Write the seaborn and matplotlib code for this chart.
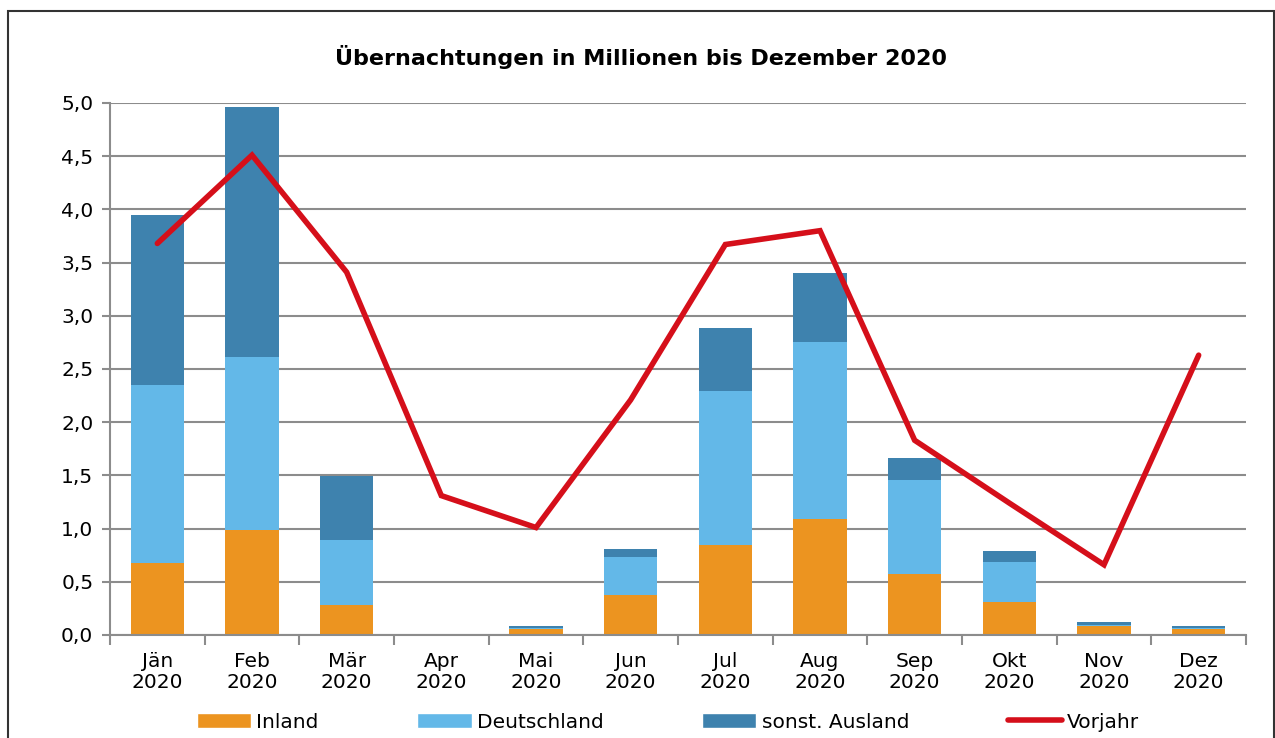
import matplotlib
matplotlib.use('Agg')
import matplotlib.pyplot as plt
import numpy as np
import pandas as pd
import seaborn as sns
from matplotlib.patches import Patch, Rectangle
from matplotlib.lines import Line2D
from matplotlib.ticker import FuncFormatter, FixedLocator

# values (million overnight stays)
months = ['Jän', 'Feb', 'Mär', 'Apr', 'Mai', 'Jun', 'Jul', 'Aug', 'Sep', 'Okt', 'Nov', 'Dez']
year = '2020'
inland = [0.68, 0.99, 0.28, 0.003, 0.055, 0.38, 0.85, 1.09, 0.57, 0.31, 0.085, 0.055]
deutschland = [1.67, 1.62, 0.61, 0.004, 0.015, 0.35, 1.44, 1.66, 0.89, 0.38, 0.01, 0.01]
ausland = [1.60, 2.35, 0.60, 0.005, 0.015, 0.08, 0.60, 0.65, 0.20, 0.10, 0.03, 0.02]
vorjahr = [3.68, 4.51, 3.41, 1.31, 1.01, 2.21, 3.67, 3.80, 1.83, 1.24, 0.66, 2.63]

c_inland = '#EC9420'
c_de = '#63B8E8'
c_aus = '#3E82AE'
c_vj = '#D50F1A'
grid_c = '#8C8C8C'

df = pd.DataFrame({
    'Monat': [f'{m}\n{year}' for m in months],
    'Inland': inland,
    'Deutschland': deutschland,
    'Ausland': ausland,
    'Vorjahr': vorjahr,
})
df['bis_de'] = df['Inland'] + df['Deutschland']
df['gesamt'] = df['bis_de'] + df['Ausland']

sns.set_style('white')
plt.rcParams['font.family'] = ['DejaVu Sans']
plt.rcParams['text.color'] = 'black'
plt.rcParams['xtick.labelcolor'] = 'black'
plt.rcParams['ytick.labelcolor'] = 'black'

fig = plt.figure(figsize=(12.75, 7.38), dpi=100)
ax = fig.add_axes([110 / 1275, 1 - 635 / 738, (1246 - 110) / 1275, (635 - 103) / 738])

# layered bars: total first, then partial sums on top
bw = 0.56
sns.barplot(data=df, x='Monat', y='gesamt', color=c_aus, saturation=1, width=bw, ax=ax,
            linewidth=0, zorder=2)
sns.barplot(data=df, x='Monat', y='bis_de', color=c_de, saturation=1, width=bw, ax=ax,
            linewidth=0, zorder=2)
sns.barplot(data=df, x='Monat', y='Inland', color=c_inland, saturation=1, width=bw, ax=ax,
            linewidth=0, zorder=2)

sns.lineplot(x=np.arange(len(months)), y=df['Vorjahr'], color=c_vj, linewidth=4, ax=ax,
             zorder=4, solid_joinstyle='miter')

ax.set_xlim(-0.5, len(months) - 0.5)
ax.set_ylim(0, 5)
ax.set_xlabel('')
ax.set_ylabel('')

ax.yaxis.set_major_locator(FixedLocator(np.arange(0, 5.01, 0.5)))
ax.yaxis.set_major_formatter(FuncFormatter(lambda v, p: f'{v:.1f}'.replace('.', ',')))
ax.yaxis.grid(True, color=grid_c, linewidth=1.5, zorder=0)
ax.set_axisbelow(True)

ax.set_xticks(np.arange(len(months)))
ax.set_xticklabels(df['Monat'], fontsize=14.5, linespacing=1.15)
ax.set_xticks(np.arange(-0.5, len(months)), minor=True)
ax.tick_params(axis='x', which='major', length=0, pad=12)
ax.tick_params(axis='x', which='minor', length=7, width=1.5, color=grid_c, direction='out')
ax.tick_params(axis='y', length=6, width=1.5, color=grid_c, direction='out', labelsize=14.5, pad=6)
ax.tick_params(bottom=True, left=True, which='both')

for s in ['top', 'right']:
    ax.spines[s].set_visible(False)
for s in ['left', 'bottom']:
    ax.spines[s].set_color(grid_c)
    ax.spines[s].set_linewidth(1.5)

fig.text(0.503, 1 - 57 / 738, 'Übernachtungen in Millionen bis Dezember 2020',
         ha='center', va='center', fontsize=16, fontweight='bold')

handles = [
    Patch(facecolor=c_inland, label='Inland'),
    Patch(facecolor=c_de, label='Deutschland'),
    Patch(facecolor=c_aus, label='sonst. Ausland'),
    Line2D([], [], color=c_vj, linewidth=4, label='Vorjahr'),
]
fig.legend(handles=handles, ncol=4, loc='center', bbox_to_anchor=(668 / 1275, 1 - 722 / 738),
           frameon=False, fontsize=14.5, handlelength=2.7, handleheight=0.7,
           handletextpad=0.25, columnspacing=4.9, borderaxespad=0)

# outer frame of the chart
fig.patches.append(Rectangle((8 / 1275, -0.02), (1274 - 8) / 1275, 1 - 11 / 738 + 0.02,
                             transform=fig.transFigure, fill=False, edgecolor='#333333',
                             linewidth=1.5))

fig.savefig('out.png', dpi=100)
